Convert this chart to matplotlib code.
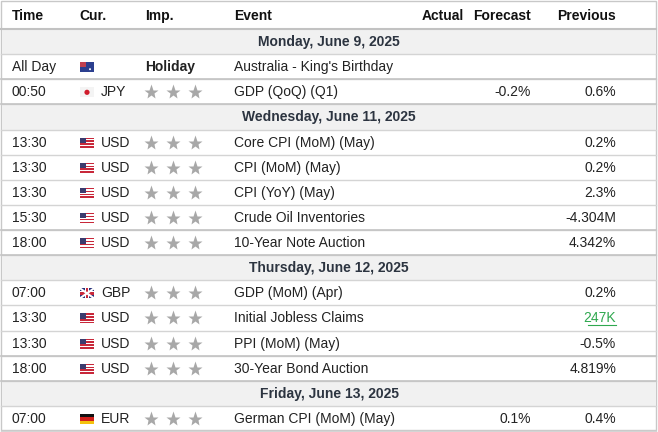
import matplotlib
matplotlib.use("Agg")
import matplotlib.pyplot as plt
from matplotlib.patches import Rectangle, Circle

headers = ["Time", "Cur.", "Imp.", "Event", "Actual", "Forecast", "Previous"]
rows = [
    ("date", "Monday, June 9, 2025"),
    ("All Day", "AUD", "Holiday", "Australia - King's Birthday", "", "", ""),
    ("00:50", "JPY", 3, "GDP (QoQ) (Q1)", "", "-0.2%", "0.6%"),
    ("date", "Wednesday, June 11, 2025"),
    ("13:30", "USD", 3, "Core CPI (MoM) (May)", "", "", "0.2%"),
    ("13:30", "USD", 3, "CPI (MoM) (May)", "", "", "0.2%"),
    ("13:30", "USD", 3, "CPI (YoY) (May)", "", "", "2.3%"),
    ("15:30", "USD", 3, "Crude Oil Inventories", "", "", "-4.304M"),
    ("18:00", "USD", 3, "10-Year Note Auction", "", "", "4.342%"),
    ("date", "Thursday, June 12, 2025"),
    ("07:00", "GBP", 3, "GDP (MoM) (Apr)", "", "", "0.2%"),
    ("13:30", "USD", 3, "Initial Jobless Claims", "", "", "247K"),
    ("13:30", "USD", 3, "PPI (MoM) (May)", "", "", "-0.5%"),
    ("18:00", "USD", 3, "30-Year Bond Auction", "", "", "4.819%"),
    ("date", "Friday, June 13, 2025"),
    ("07:00", "EUR", 3, "German CPI (MoM) (May)", "", "0.1%", "0.4%"),
]
green_previous = ["247K"]

W, H = 658, 432
fig = plt.figure(figsize=(W/100, H/100), dpi=100)
ax = fig.add_axes([0, 0, 1, 1])
ax.set_xlim(0, W); ax.set_ylim(H, 0); ax.axis("off")

FONT = "Liberation Sans"
fs = 10
header_h = 29
row_h = (H - 1 - header_h) / len(rows)
line_c = "#d4d4d4"
text_c = "#222222"

ax.add_patch(Rectangle((1, 1), W-3, H-3, fill=False, ec="#c8c8c8", lw=1))
hx = [12, 79, 145, 234, 464, 531, 616]
ha = ["left"]*4 + ["right"]*3
for x, h, a in zip(hx, headers, ha):
    ax.text(x, 16, h, ha=a, va="center", fontsize=fs, fontweight="bold", family=FONT, color="#111111")
ax.plot([1, W-2], [header_h, header_h], color="#bbbbbb", lw=1.5)

def flag(cur, x, yc):
    w, h = 14, 10
    y0 = yc - h/2
    if cur == "USD":
        for i in range(7):
            ax.add_patch(Rectangle((x, y0 + i*h/7), w, h/7, color="#c8283a" if i % 2 == 0 else "white", lw=0))
        ax.add_patch(Rectangle((x, y0), 6, 5.5, color="#3c3b6e", lw=0))
    elif cur == "JPY":
        ax.add_patch(Rectangle((x, y0), w, h, color="#f4f4f4", lw=0))
        ax.add_patch(Circle((x+w/2, yc), 2.6, color="#d01c2c", lw=0))
    elif cur == "AUD":
        ax.add_patch(Rectangle((x, y0), w, h, color="#2b3f8f", lw=0))
        ax.add_patch(Rectangle((x, y0), 6, 5, color="#c04050", lw=0))
        ax.add_patch(Circle((x+10, yc+2), 1, color="white", lw=0))
    elif cur == "GBP":
        ax.add_patch(Rectangle((x, y0), w, h, color="#24307a", lw=0))
        ax.plot([x, x+w], [y0, y0+h], color="white", lw=1.5)
        ax.plot([x, x+w], [y0+h, y0], color="white", lw=1.5)
        ax.add_patch(Rectangle((x+w/2-2, y0), 4, h, color="white", lw=0))
        ax.add_patch(Rectangle((x, yc-2), w, 4, color="white", lw=0))
        ax.add_patch(Rectangle((x+w/2-1.2, y0), 2.4, h, color="#c8283a", lw=0))
        ax.add_patch(Rectangle((x, yc-1.2), w, 2.4, color="#c8283a", lw=0))
    elif cur == "EUR":
        cols = ["#111111", "#d0201c", "#f4c20d"]
        for i, c in enumerate(cols):
            ax.add_patch(Rectangle((x, y0 + i*h/3), w, h/3, color=c, lw=0))

for i, r in enumerate(rows):
    y0 = header_h + i*row_h
    yc = y0 + row_h/2 + 0.5
    if r[0] == "date":
        ax.add_patch(Rectangle((1.5, y0), W-4, row_h, color="#f1f1f1", lw=0))
        ax.text(W/2, yc, r[1], ha="center", va="center", fontsize=fs, fontweight="bold", family=FONT, color="#2c3440")
    else:
        t, cur, imp, ev, act, fc, prev = r
        ax.text(12, yc, t, ha="left", va="center", fontsize=fs, family=FONT, color=text_c)
        flag(cur, 80, yc)
        if cur != "AUD":
            ax.text(101, yc, cur, ha="left", va="center", fontsize=fs, family=FONT, color=text_c)
        if isinstance(imp, str):
            ax.text(145, yc, imp, ha="left", va="center", fontsize=fs, fontweight="bold", family=FONT, color=text_c)
        else:
            for k in range(imp):
                ax.plot(151 + k*22, yc, marker="*", ms=11, color="#a8a8a8", mec="none")
        ax.text(234, yc, ev, ha="left", va="center", fontsize=fs, family=FONT, color=text_c)
        ax.text(464, yc, act, ha="right", va="center", fontsize=fs, family=FONT, color=text_c)
        ax.text(531, yc, fc, ha="right", va="center", fontsize=fs, family=FONT, color=text_c)
        gc = prev in green_previous
        ax.text(616, yc, prev, ha="right", va="center", fontsize=fs, family=FONT,
                color="#2fa84f" if gc else text_c)
        if gc:
            ax.plot([588, 616], [yc+7, yc+7], color="#2fa84f", lw=0.8)
    ax.plot([1, W-2], [y0 + row_h, y0 + row_h], color=line_c, lw=1)
    if r[0] == "date" or (i+1 < len(rows) and rows[i+1][0] == "date"):
        ax.plot([1, W-2], [y0, y0], color="#c4c4c4", lw=1.2)

fig.savefig("out.png", dpi=100)
